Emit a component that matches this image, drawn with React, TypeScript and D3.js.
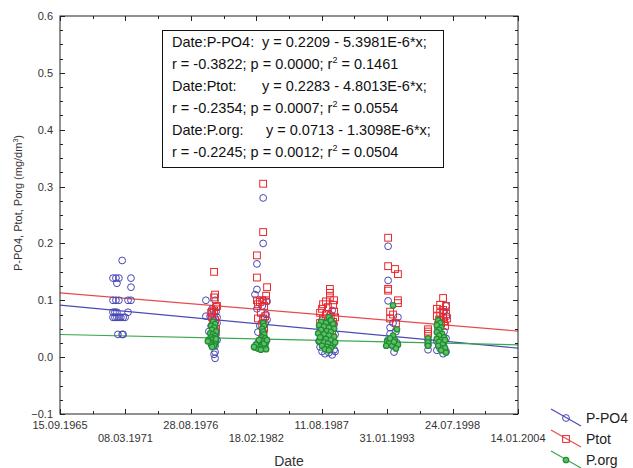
import React from "react";
import * as d3 from "d3";

// x values are Excel-style serial dates (days since 30.12.1899)
const xTickValues = [24000, 26000, 28000, 30000, 32000, 34000, 36000, 38000];
const xTickLabels = ["15.09.1965", "08.03.1971", "28.08.1976", "18.02.1982", "11.08.1987", "31.01.1993", "24.07.1998", "14.01.2004"];
const yTickValues = [-0.1, 0, 0.1, 0.2, 0.3, 0.4, 0.5, 0.6];

const seriesNames = ["P-PO4", "Ptot", "P.org"];
// regression: y = a + b*x
const regA = [0.2209, 0.2283, 0.0713];
const regB = [-5.3981e-6, -4.8013e-6, -1.3098e-6];
const statLines = [
  ["Date:P-PO4:", "y = 0.2209 - 5.3981E-6*x;"],
  ["r = -0.3822; p = 0.0000; r", "= 0.1461"],
  ["Date:Ptot:", "y = 0.2283 - 4.8013E-6*x;"],
  ["r = -0.2354; p = 0.0007; r", "= 0.0554"],
  ["Date:P.org:", "y = 0.0713 - 1.3098E-6*x;"],
  ["r = -0.2245; p = 0.0012; r", "= 0.0504"],
];

const ppo4: [number, number][] = [
  [25900, 0.17], [25620, 0.139], [25710, 0.139], [25800, 0.139], [26170, 0.139], [25740, 0.13], [26170, 0.123],
  [25620, 0.1], [25710, 0.1], [25800, 0.1], [26080, 0.1], [26170, 0.1],
  [25620, 0.079], [25680, 0.079], [25740, 0.079], [26080, 0.079],
  [25620, 0.07], [25680, 0.07], [25740, 0.07], [25800, 0.07], [25860, 0.07], [25930, 0.07], [25990, 0.07],
  [25770, 0.04], [25900, 0.04], [25930, 0.04],
  [28460, 0.1], [28740, 0.1], [28460, 0.072], [28590, 0.072], [28710, 0.072], [28800, 0.07], [28650, 0.085], [28770, 0.08],
  [28680, 0.065], [28800, 0.06], [28620, 0.055], [28740, 0.05], [28550, 0.045], [28770, 0.04], [28680, 0.035], [28800, 0.03],
  [28650, 0.025], [28740, 0.02], [28740, 0.009], [28710, 0.005], [28740, -0.002],
  [30210, 0.28], [30210, 0.2], [30020, 0.164], [30020, 0.119], [29960, 0.11], [30210, 0.1], [30330, 0.098], [30020, 0.085],
  [30180, 0.09], [30300, 0.075], [30210, 0.068], [30330, 0.066], [30050, 0.044], [30210, 0.045], [30110, 0.055], [30270, 0.06],
  [30180, 0.035], [30300, 0.03], [30050, 0.025], [30240, 0.02], [30140, 0.015],
  [32320, 0.082], [32250, 0.075], [32010, 0.065], [32160, 0.06], [32380, 0.058], [31950, 0.052], [32100, 0.048], [32250, 0.045],
  [32410, 0.04], [32010, 0.038], [32190, 0.035], [32320, 0.03], [31920, 0.028], [32100, 0.025], [32280, 0.022], [31950, 0.018],
  [32160, 0.015], [32380, 0.013], [32010, 0.01], [32220, 0.008], [32320, 0.004], [32100, 0.006], [32410, 0.01],
  [34030, 0.195], [34030, 0.135], [34030, 0.099], [34330, 0.07], [34090, 0.052], [34090, 0.041], [34210, 0.009], [34180, 0.06],
  [34270, 0.045], [34030, 0.03], [34300, 0.025],
  [35250, 0.013], [35250, 0.03], [35250, 0.022],
  [35800, 0.09], [35740, 0.08], [35830, 0.072], [35650, 0.065], [35560, 0.05], [35740, 0.045], [35620, 0.038], [35800, 0.033],
  [35520, 0.028], [35710, 0.022], [35620, 0.015], [35800, 0.01], [35520, 0.012], [35710, 0.006],
];

const ptot: [number, number][] = [
  [28710, 0.15], [28740, 0.11], [28710, 0.105], [28800, 0.09], [28770, 0.088], [28650, 0.08], [28620, 0.078], [28710, 0.082],
  [28650, 0.07], [28740, 0.065], [28680, 0.06], [28710, 0.055], [28770, 0.05], [28680, 0.045], [28740, 0.04],
  [30210, 0.305], [30210, 0.22], [30020, 0.179], [30020, 0.14], [30330, 0.123], [30300, 0.108], [30020, 0.1], [30110, 0.097],
  [30180, 0.1], [30300, 0.1], [30050, 0.093], [30240, 0.09], [30050, 0.068], [30210, 0.068], [30140, 0.078], [30270, 0.072],
  [30180, 0.058], [30240, 0.05], [30210, 0.04], [30180, 0.03],
  [32250, 0.12], [32250, 0.113], [32250, 0.105], [32040, 0.093], [32380, 0.1], [32130, 0.098], [32350, 0.092], [32010, 0.085],
  [32190, 0.088], [32380, 0.08], [31950, 0.078], [32130, 0.075], [32280, 0.072], [32410, 0.07], [32040, 0.068], [32190, 0.065],
  [32350, 0.062], [31950, 0.06], [32130, 0.058], [32250, 0.055], [32070, 0.05], [32320, 0.047], [32160, 0.042], [32220, 0.035],
  [34030, 0.21], [34030, 0.16], [34240, 0.155], [34330, 0.146], [34030, 0.12], [34030, 0.117], [34330, 0.1], [34330, 0.095],
  [34090, 0.08], [34090, 0.068], [34180, 0.075], [34270, 0.06],
  [35250, 0.049], [35250, 0.045], [35250, 0.041],
  [35710, 0.104], [35620, 0.092], [35800, 0.09], [35520, 0.085], [35710, 0.083], [35620, 0.078], [35800, 0.076], [35520, 0.072],
  [35710, 0.07], [35830, 0.068], [35590, 0.066], [35740, 0.063], [35650, 0.06], [35560, 0.057], [35770, 0.055],
];

const porg: [number, number][] = [
  [28680, 0.062], [28740, 0.058], [28620, 0.055], [28710, 0.052], [28650, 0.048], [28770, 0.045], [28590, 0.042], [28680, 0.04],
  [28740, 0.037], [28620, 0.035], [28710, 0.033], [28550, 0.031], [28650, 0.03], [28770, 0.028], [28590, 0.026], [28680, 0.025],
  [28740, 0.023], [28620, 0.022], [28710, 0.02], [28650, 0.018], [28770, 0.032], [28520, 0.028],
  [30210, 0.06], [30240, 0.055], [30180, 0.05], [30210, 0.045], [30240, 0.04], [30180, 0.035], [30270, 0.033], [30140, 0.03],
  [30210, 0.028], [30300, 0.026], [30080, 0.024], [30180, 0.022], [30270, 0.02], [30020, 0.02], [30110, 0.018], [29960, 0.017],
  [30210, 0.016], [30050, 0.015], [30300, 0.014], [30140, 0.013], [30240, 0.024], [29990, 0.022], [29930, 0.018], [30330, 0.03], [30080, 0.03],
  [32220, 0.07], [32280, 0.065], [31980, 0.062], [32130, 0.06], [32350, 0.058], [31920, 0.056], [32070, 0.054], [32220, 0.052],
  [32380, 0.05], [31980, 0.048], [32160, 0.046], [32280, 0.044], [31890, 0.042], [32070, 0.04], [32220, 0.038], [32380, 0.036],
  [31980, 0.034], [32130, 0.032], [32280, 0.03], [31920, 0.028], [32070, 0.026], [32190, 0.024], [32350, 0.022], [32010, 0.02],
  [32160, 0.018], [32280, 0.016], [32100, 0.014], [32220, 0.012], [32410, 0.026], [31950, 0.035],
  [34180, 0.091], [34300, 0.049], [34180, 0.038], [34000, 0.028], [34060, 0.025], [34240, 0.03], [34330, 0.022], [34150, 0.02],
  [33970, 0.02], [34270, 0.015], [34090, 0.033], [34210, 0.027],
  [35250, 0.033], [35250, 0.026], [35250, 0.02],
  [35560, 0.065], [35620, 0.06], [35520, 0.056], [35650, 0.052], [35590, 0.048], [35520, 0.044], [35680, 0.041], [35590, 0.038],
  [35740, 0.035], [35520, 0.032], [35650, 0.03], [35590, 0.027], [35710, 0.024], [35560, 0.02], [35770, 0.016], [35650, 0.012],
  [35800, 0.008], [35770, 0.03],
];

const BLUE = "#4646b4";
const RED = "#e8282c";
const GREEN = "#1f8f34";
const LINE_COLORS = ["#4a4ab8", "#ea4a4a", "#3aa84c"];
const FONT = "'Liberation Sans', Arial, Helvetica, sans-serif";

const W = 633, H = 468;
const M = { left: 60, right: 518, top: 16, bottom: 414 };

function Marker({ kind, x, y }: { kind: number; x: number; y: number }) {
  if (kind === 0) return <circle cx={x} cy={y} r={3.4} fill="none" stroke={BLUE} strokeWidth={1} />;
  if (kind === 1) return <rect x={x - 3.4} y={y - 3.4} width={6.8} height={6.8} fill="none" stroke={RED} strokeWidth={1} />;
  return <circle cx={x} cy={y} r={2.7} fill="#62bf68" stroke={GREEN} strokeWidth={1.3} />;
}

export default function App() {
  const x = d3.scaleLinear().domain([24000, 38000]).range([M.left, M.right]);
  const y = d3.scaleLinear().domain([-0.1, 0.6]).range([M.bottom, M.top]);
  const xMinor = d3.range(24000, 38001, 1000);
  const yMinor = d3.range(-0.1, 0.6001, 0.025);
  const axisColor = "#222";
  const series = [ppo4, ptot, porg];
  const yEqX = [262, 0, 262, 0, 266, 0];

  return (
    <svg width={W} height={H} style={{ position: "absolute", left: 0, top: 0, background: "#fff" }} fontFamily={FONT}>
      <rect x={0} y={0} width={W} height={H} fill="#fff" />
      {/* regression lines */}
      {regA.map((a, i) => {
        const pts = x.domain().map((v) => [x(v), y(a + regB[i] * v)] as [number, number]);
        return <path key={"reg" + i} d={d3.line()(pts) || ""} stroke={LINE_COLORS[i]} strokeWidth={1.2} fill="none" />;
      })}
      {/* points */}
      {series.map((s, k) => (
        <g key={"s" + k}>
          {s.map((d, j) => <Marker key={j} kind={k} x={x(d[0])} y={y(d[1])} />)}
        </g>
      ))}
      {/* frame */}
      <rect x={M.left} y={M.top} width={M.right - M.left} height={M.bottom - M.top} fill="none" stroke={axisColor} strokeWidth={1} />
      {/* ticks */}
      {xMinor.map((v, i) => {
        const len = i % 2 === 0 ? 5 : 3;
        const px = Math.round(x(v)) + 0.5;
        return (
          <g key={"xt" + i} stroke={axisColor}>
            <line x1={px} x2={px} y1={M.bottom} y2={M.bottom - len} />
            <line x1={px} x2={px} y1={M.top} y2={M.top + len} />
          </g>
        );
      })}
      {yMinor.map((v, i) => {
        const len = i % 4 === 0 ? 5 : 3;
        const py = Math.round(y(v)) + 0.5;
        return (
          <g key={"yt" + i} stroke={axisColor}>
            <line x1={M.left} x2={M.left + len} y1={py} y2={py} />
            <line x1={M.right} x2={M.right - len} y1={py} y2={py} />
          </g>
        );
      })}
      {/* tick labels */}
      {xTickValues.map((v, i) => (
        <text key={"xl" + i} x={x(v)} y={i % 2 === 0 ? 429 : 442} textAnchor="middle" fontSize={11} fill="#333">
          {xTickLabels[i]}
        </text>
      ))}
      {yTickValues.map((v, i) => (
        <text key={"yl" + i} x={53} y={y(v) + 4} textAnchor="end" fontSize={11} fill="#333">
          {d3.format(".1f")(v)}
        </text>
      ))}
      {/* axis titles */}
      <text x={289} y={466} textAnchor="middle" fontSize={14} fill="#333">Date</text>
      <text transform={`translate(22,${(M.top + M.bottom) / 2 - 12}) rotate(-90)`} textAnchor="middle" fontSize={11} fill="#333">
        P-PO4, Ptot, Porg (mg/dm<tspan dy={-4} fontSize={7}>3</tspan><tspan dy={4}>)</tspan>
      </text>
      {/* stats box */}
      <rect x={162.5} y={30.5} width={281} height={137} fill="#fff" stroke="#111" strokeWidth={1} />
      {statLines.map((l, i) => {
        const by = 47 + i * 22;
        if (i % 2 === 0) {
          return (
            <g key={"st" + i} fontSize={14.5} fill="#111">
              <text x={172} y={by}>{l[0]}</text>
              <text x={yEqX[i]} y={by}>{l[1]}</text>
            </g>
          );
        }
        return (
          <text key={"st" + i} x={172} y={by} fontSize={14.5} fill="#111" style={{ whiteSpace: "pre" }}>
            {l[0]}<tspan dy={-6} fontSize={9}>2</tspan><tspan dy={6}>{" " + l[1]}</tspan>
          </text>
        );
      })}
      {/* legend */}
      {seriesNames.map((n, i) => {
        const cy = 418 + i * 21;
        return (
          <g key={"lg" + i}>
            <line x1={551} y1={cy - 9} x2={581} y2={cy + 8} stroke={LINE_COLORS[i]} strokeWidth={1.2} />
            <Marker kind={i} x={566} y={cy} />
            <text x={586} y={cy + 4.5} fontSize={14} fill="#222">{n}</text>
          </g>
        );
      })}
    </svg>
  );
}
